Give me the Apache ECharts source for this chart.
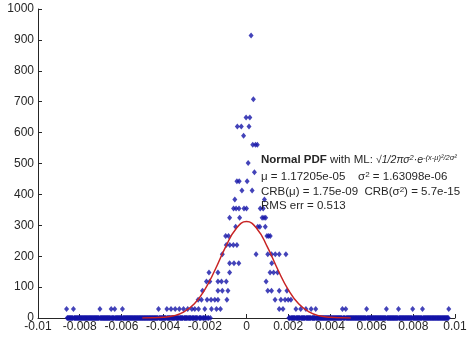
<!DOCTYPE html>
<html>
<head>
<meta charset="utf-8">
<script src="https://cdn.jsdelivr.net/npm/echarts@6/dist/echarts.min.js"></script>
<style>
html, body { margin: 0; padding: 0; background: #fff; }
#main { width: 472px; height: 339px; }
</style>
</head>
<body>
<div id="main"></div>
<script>
// histogram of the samples, drawn as points (density = count * densityPerCount)
var binWidth = 0.00003;
var densityPerCount = 29.5;
// stretches of empty bins (density 0)
var emptyRanges = [[-0.00863, -0.00168], [0.00200, 0.00968]];
// non-empty bins: position and count
var hitX = [
  0.00022,
  0.00033,
  -0.00002, 0.00016,
  -0.00044, -0.00025, 0.00012,
  -0.00014,
  0.00030, 0.00043, 0.00052,
  0.00008,
  0.00038,
  -0.00046, -0.00035, 0.00003,
  -0.00022, 0.00027,
  -0.00056, 0.00086,
  -0.00062, -0.00050, -0.00036, -0.00012, 0.00000, 0.00066, 0.00080,
  -0.00081, -0.00033, 0.00075, 0.00084, 0.00092,
  -0.00052, 0.00054, 0.00064, 0.00090,
  -0.00100, -0.00086, 0.00098, 0.00106, 0.00114,
  -0.00097, -0.00080, -0.00063, -0.00046,
  -0.00116, 0.00046, 0.00102, 0.00120, 0.00138, 0.00157, 0.00189,
  -0.00081, -0.00060, -0.00037, 0.00121,
  -0.00180, -0.00137, -0.00081, 0.00113, 0.00130, 0.00149,
  -0.00192, -0.00176, -0.00137, -0.00120, -0.00097, 0.00094,
  -0.00211, -0.00137, -0.00116, -0.00089, 0.00102, 0.00120, 0.00157, 0.00194,
  -0.00232, -0.00216, -0.00189, -0.00170, -0.00152, -0.00137, -0.00094, 0.00137, 0.00165, 0.00185, 0.00200, 0.00213,
  -0.00863, -0.00830, -0.00703, -0.00649, -0.00632, -0.00595, -0.00422, -0.00382, -0.00362, -0.00342,
  -0.00322, -0.00302, -0.00282, -0.00262, -0.00248, -0.00230, -0.00200, -0.00168, -0.00144, -0.00125,
  0.00157, 0.00175, 0.00237, 0.00260, 0.00285, 0.00310, 0.00332, 0.00460, 0.00476, 0.00576,
  0.00671, 0.00729, 0.00797, 0.00844, 0.00970
];
var hitCount = [
  31,
  24,
  22, 22,
  21, 21, 21,
  20,
  19, 19, 19,
  17,
  16,
  15, 15, 15,
  14, 14,
  13, 13,
  12, 12, 12, 12, 12, 12, 12,
  11, 11, 11, 11, 11,
  10, 10, 10, 10,
  9, 9, 9, 9, 9,
  8, 8, 8, 8,
  7, 7, 7, 7, 7, 7, 7,
  6, 6, 6, 6,
  5, 5, 5, 5, 5, 5,
  4, 4, 4, 4, 4, 4,
  3, 3, 3, 3, 3, 3, 3, 3,
  2, 2, 2, 2, 2, 2, 2, 2, 2, 2, 2, 2,
  1, 1, 1, 1, 1, 1, 1, 1, 1, 1,
  1, 1, 1, 1, 1, 1, 1, 1, 1, 1,
  1, 1, 1, 1, 1, 1, 1, 1, 1, 1,
  1, 1, 1, 1, 1
];
// fitted normal pdf (red curve)
var fitX = [-0.005, -0.0045, -0.004, -0.0035, -0.003, -0.0025, -0.002, -0.0015, -0.001, -0.0005, 0,
            0.0005, 0.001, 0.0015, 0.002, 0.0025, 0.003, 0.0035, 0.004, 0.0045, 0.005];
var fitY = [0.2, 0.6, 2.3, 7, 20, 46, 92, 157, 230, 289, 312,
            289, 230, 157, 92, 46, 20, 7, 2.3, 0.6, 0.2];
var xTicks = [-0.01, -0.008, -0.006, -0.004, -0.002, 0, 0.002, 0.004, 0.006, 0.008, 0.01];

var histPts = [];
emptyRanges.forEach(function (r) {
  for (var x = r[0]; x <= r[1] + 1e-9; x += binWidth) {
    var taken = hitX.some(function (h) { return Math.abs(h - x) < binWidth / 2; });
    if (!taken) histPts.push([x, 0]);
  }
});
hitX.forEach(function (x, i) { histPts.push([x, hitCount[i] * densityPerCount]); });

var fitPts = fitX.map(function (x, i) { return [x, fitY[i]]; });

var ink = '#262626';
var font = 'Liberation Sans';

var myChart = echarts.init(document.getElementById('main'));
var option = {
  animation: false,
  grid: { left: 38, right: 17, top: 9, bottom: 21, containLabel: false },
  xAxis: {
    type: 'value',
    min: xTicks[0],
    max: xTicks[xTicks.length - 1],
    interval: 0.002,
    splitLine: { show: false },
    axisLine: { onZero: false, lineStyle: { color: ink, width: 1 } },
    axisTick: { inside: true, length: 4, lineStyle: { color: ink } },
    axisLabel: {
      color: ink, fontFamily: font, fontSize: 12, margin: 3,
      formatter: function (v) { return String(+v.toFixed(3)); }
    }
  },
  yAxis: {
    type: 'value',
    min: 0,
    max: 1000,
    interval: 100,
    splitLine: { show: false },
    axisLine: { show: true, onZero: false, lineStyle: { color: ink, width: 1 } },
    axisTick: { show: true, inside: true, length: 4, lineStyle: { color: ink } },
    axisLabel: {
      color: ink, fontFamily: font, fontSize: 12, margin: 4,
      formatter: function (v) { return String(v); }
    }
  },
  series: [
    {
      type: 'scatter',
      data: histPts,
      symbol: 'diamond',
      symbolSize: [5, 6],
      itemStyle: { color: '#1414a8' },
      z: 2
    },
    {
      type: 'line',
      data: fitPts,
      smooth: true,
      showSymbol: false,
      lineStyle: { color: '#c82424', width: 1.5 },
      z: 3
    }
  ],
  graphic: [
    {
      type: 'text', left: 261, top: 154, z: 10,
      style: {
        text: '{b|Normal PDF} with ML: {i|√1/2πσ}{s|2}{i|·e}{s|-(x-μ)²/2σ²}',
        fill: ink,
        font: '11.5px ' + font,
        rich: {
          b: { fontWeight: 'bold', fontSize: 11.5, fontFamily: font, fill: ink },
          i: { fontStyle: 'italic', fontSize: 10.5, fontFamily: font, fill: ink },
          s: { fontStyle: 'italic', fontSize: 7.5, fontFamily: font, verticalAlign: 'top', fill: ink }
        }
      }
    },
    {
      type: 'text', left: 261, top: 171, z: 10,
      style: {
        text: 'μ = 1.17205e-05    σ{s|2} = 1.63098e-06',
        fill: ink, font: '11.5px ' + font,
        rich: { s: { fontSize: 8, fontFamily: font, verticalAlign: 'top', fill: ink } }
      }
    },
    {
      type: 'text', left: 261, top: 186, z: 10,
      style: {
        text: 'CRB(μ) = 1.75e-09  CRB(σ{s|2}) = 5.7e-15',
        fill: ink, font: '11.5px ' + font,
        rich: { s: { fontSize: 8, fontFamily: font, verticalAlign: 'top', fill: ink } }
      }
    },
    {
      type: 'text', left: 261, top: 200, z: 10,
      style: { text: 'RMS err = 0.513', fill: ink, font: '11.5px ' + font }
    }
  ]
};
myChart.setOption(option);
</script>
</body>
</html>
